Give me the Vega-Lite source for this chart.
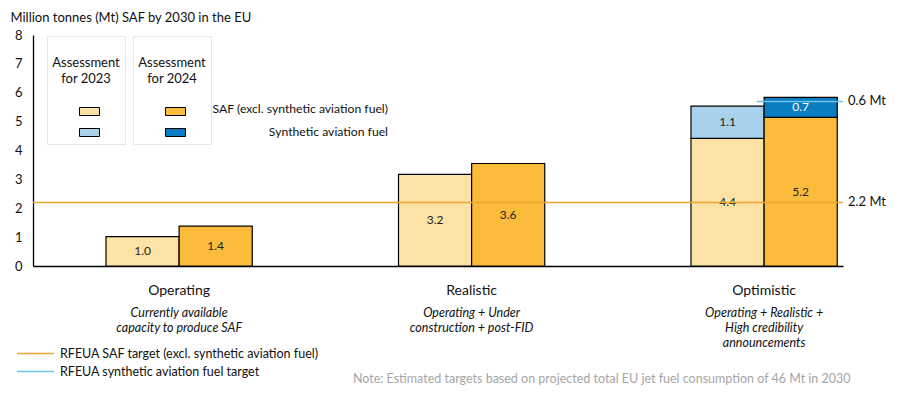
{
  "$schema": "https://vega.github.io/schema/vega-lite/v6.json",
  "width": 810,
  "height": 231,
  "autosize": {"type": "none"},
  "padding": {"left": 33, "top": 35, "right": 69, "bottom": 127},
  "background": "white",
  "config": {"font": "Lato", "view": {"stroke": null}, "axis": {"grid": false}},
  "datasets": {
    "bars": [
      {"scenario": "Operating", "year": "2023", "type": "SAF (excl. synthetic aviation fuel)", "value": 1.02, "label": "1.0"},
      {"scenario": "Operating", "year": "2024", "type": "SAF (excl. synthetic aviation fuel)", "value": 1.38, "label": "1.4"},
      {"scenario": "Realistic", "year": "2023", "type": "SAF (excl. synthetic aviation fuel)", "value": 3.17, "label": "3.2"},
      {"scenario": "Realistic", "year": "2024", "type": "SAF (excl. synthetic aviation fuel)", "value": 3.55, "label": "3.6"},
      {"scenario": "Optimistic", "year": "2023", "type": "SAF (excl. synthetic aviation fuel)", "value": 4.42, "label": "4.4"},
      {"scenario": "Optimistic", "year": "2023", "type": "Synthetic aviation fuel", "value": 1.12, "label": "1.1"},
      {"scenario": "Optimistic", "year": "2024", "type": "SAF (excl. synthetic aviation fuel)", "value": 5.15, "label": "5.2"},
      {"scenario": "Optimistic", "year": "2024", "type": "Synthetic aviation fuel", "value": 0.69, "label": "0.7"}
    ],
    "targets": [
      {"target": "RFEUA SAF target (excl. synthetic aviation fuel)", "value": 2.2, "label": "2.2 Mt"},
      {"target": "RFEUA synthetic aviation fuel target", "value": 5.7, "label": "0.6 Mt"}
    ]
  },
  "layer": [
    {
      "data": {"name": "bars"},
      "transform": [{"filter": "datum.year == '2023'"}],
      "mark": {"type": "bar", "stroke": "black", "strokeWidth": 1.2},
      "encoding": {
        "x": {
          "field": "scenario", "type": "nominal", "sort": ["Operating", "Realistic", "Optimistic"],
          "scale": {"paddingInner": 0.5, "paddingOuter": 0.1346, "align": 0.927},
          "axis": {"orient": "bottom", "title": null, "labelAngle": 0, "labelFontSize": 14, "labelColor": "#111",
                   "labelPadding": 17, "labelBaseline": "top", "ticks": false, "domain": true, "domainColor": "black", "domainWidth": 1.3}
        },
        "xOffset": {"field": "year", "type": "nominal", "scale": {"domain": ["2023", "2024"], "paddingInner": 0, "paddingOuter": 0}},
        "y": {
          "field": "value", "type": "quantitative", "stack": "zero",
          "scale": {"domain": [0, 8], "nice": false},
          "axis": {"orient": "left", "title": "Million tonnes (Mt) SAF by 2030 in the EU", "titleAngle": 0, "titleAlign": "left", "titleBaseline": "middle",
                   "titleX": -23, "titleY": -18, "titleFontSize": 13, "titleFontWeight": "normal", "titleColor": "#111",
                   "values": [0, 1, 2, 3, 4, 5, 6, 7, 8], "tickCount": 9, "labelOverlap": false, "ticks": false, "domainColor": "black", "domainWidth": 1.3,
                   "labelFontSize": 13, "labelColor": "#111", "labelPadding": 11, "grid": false}
        },
        "fill": {
          "field": "type", "type": "nominal",
          "scale": {"range": ["#FDE2A5", "#A8D2EC"]},
          "legend": {"orient": "none", "legendX": 14, "legendY": 1, "title": ["", "Assessment", "for 2023"],
                     "titleFontSize": 13, "titleFontWeight": "normal", "titleColor": "#111", "titleAnchor": "middle", "titleAlign": "center",
                     "titleLineHeight": 16, "titlePadding": 15,
                     "symbolType": "M-1,-0.4H1V0.4H-1Z", "symbolSize": 400, "symbolStrokeColor": "black", "symbolStrokeWidth": 1,
                     "symbolOffset": 11, "labelExpr": "''", "labelFontSize": 1, "rowPadding": 4,
                     "strokeColor": "#e6e6e6", "padding": 5}
        },
        "order": {"field": "type", "sort": "ascending"}
      }
    },
    {
      "data": {"name": "bars"},
      "transform": [{"filter": "datum.year == '2024'"}],
      "mark": {"type": "bar", "stroke": "black", "strokeWidth": 1.2},
      "encoding": {
        "x": {
          "field": "scenario", "type": "nominal", "sort": ["Operating", "Realistic", "Optimistic"],
          "axis": {"orient": "bottom", "labelAngle": 0, "domain": false, "ticks": false,
                   "labelFontSize": 12.5, "labelFontStyle": "italic", "labelColor": "#111", "labelPadding": 40,
                   "labelBaseline": "top", "labelLineHeight": 15,
                   "labelExpr": "datum.value == 'Operating' ? ['Currently available', 'capacity to produce SAF'] : datum.value == 'Realistic' ? ['Operating + Under', 'construction + post-FID'] : ['Operating + Realistic +', 'High credibility', 'announcements']",
                   "title": "Note: Estimated targets based on projected total EU jet fuel consumption of 46 Mt in  2030",
                   "titleX": 817, "titleY": 112, "titleAlign": "right", "titleBaseline": "middle", "titleAnchor": "end",
                   "titleFontSize": 12.5, "titleFontWeight": "normal", "titleColor": "#a6a6a6"}
        },
        "xOffset": {"field": "year", "type": "nominal"},
        "y": {"field": "value", "type": "quantitative", "stack": "zero", "axis": null},
        "fill": {
          "field": "type", "type": "nominal",
          "scale": {"range": ["#FBBC3B", "#0A7DC2"]},
          "legend": {"orient": "none", "legendX": 100, "legendY": 1, "title": ["", "Assessment", "for 2024"],
                     "titleFontSize": 13, "titleFontWeight": "normal", "titleColor": "#111", "titleAnchor": "middle", "titleAlign": "center",
                     "titleLineHeight": 16, "titlePadding": 15,
                     "symbolType": "M-1,-0.4H1V0.4H-1Z", "symbolSize": 400, "symbolStrokeColor": "black", "symbolStrokeWidth": 1,
                     "symbolOffset": 11, "labelExpr": "''", "labelFontSize": 1, "rowPadding": 4,
                     "strokeColor": "#e6e6e6", "padding": 5}
        },
        "order": {"field": "type", "sort": "ascending"}
      }
    },
    {
      "data": {"name": "bars"},
      "transform": [
        {"stack": "value", "groupby": ["scenario", "year"], "sort": [{"field": "type", "order": "ascending"}], "as": ["v0", "v1"]},
        {"calculate": "(datum.v0 + datum.v1) / 2", "as": "mid"}
      ],
      "mark": {"type": "text", "fontSize": 12, "baseline": "middle"},
      "encoding": {
        "x": {"field": "scenario", "type": "nominal", "sort": ["Operating", "Realistic", "Optimistic"], "axis": null},
        "xOffset": {"field": "year", "type": "nominal"},
        "y": {"field": "mid", "type": "quantitative", "axis": null},
        "text": {"field": "label"},
        "color": {"condition": {"test": "datum.year == '2024' && datum.type == 'Synthetic aviation fuel'", "value": "white"}, "value": "#222"},
        "opacity": {
          "field": "type", "type": "ordinal", "scale": {"range": [1, 1]},
          "legend": {"orient": "none", "legendX": 335, "legendY": 64, "title": null,
                     "symbolType": "M-1,0H1", "symbolSize": 400, "symbolOpacity": 0, "symbolStrokeWidth": 0,
                     "symbolFillColor": "white", "symbolStrokeColor": "white",
                     "labelAlign": "right", "labelOffset": 0, "labelFontSize": 12.2, "labelColor": "#111", "rowPadding": 6, "labelLimit": 400}
        }
      }
    },
    {
      "data": {"name": "targets"},
      "transform": [{"filter": "datum.label == '2.2 Mt'"}],
      "mark": {"type": "rule", "strokeWidth": 1.5},
      "encoding": {
        "y": {"field": "value", "type": "quantitative", "axis": null},
        "stroke": {
          "field": "target", "type": "nominal",
          "scale": {"domain": ["RFEUA SAF target (excl. synthetic aviation fuel)", "RFEUA synthetic aviation fuel target"], "range": ["#EBA731", "#6CC6EE"]},
          "legend": {"orient": "none", "legendX": -17, "legendY": 311, "title": null, "symbolType": "stroke", "symbolSize": 1369,
                     "symbolStrokeWidth": 1.5, "labelFontSize": 12.5, "labelColor": "#111", "labelOffset": 5,
                     "clipHeight": 15, "rowPadding": 3, "labelLimit": 400}
        }
      }
    },
    {
      "data": {"name": "targets"},
      "transform": [{"filter": "datum.label == '0.6 Mt'"}],
      "mark": {"type": "rule", "strokeWidth": 1.5},
      "encoding": {
        "x": {"datum": "Optimistic", "type": "nominal", "bandPosition": 0.45, "axis": null},
        "x2": {"value": "width"},
        "y": {"field": "value", "type": "quantitative", "axis": null},
        "stroke": {"field": "target", "type": "nominal"}
      }
    },
    {
      "data": {"name": "targets"},
      "mark": {"type": "text", "align": "left", "baseline": "middle", "dx": 5, "fontSize": 13, "color": "#111"},
      "encoding": {
        "x": {"value": "width"},
        "y": {"field": "value", "type": "quantitative", "axis": null},
        "text": {"field": "label"}
      }
    }
  ],
  "resolve": {"scale": {"fill": "independent"}, "axis": {"x": "independent", "y": "independent"}}
}
